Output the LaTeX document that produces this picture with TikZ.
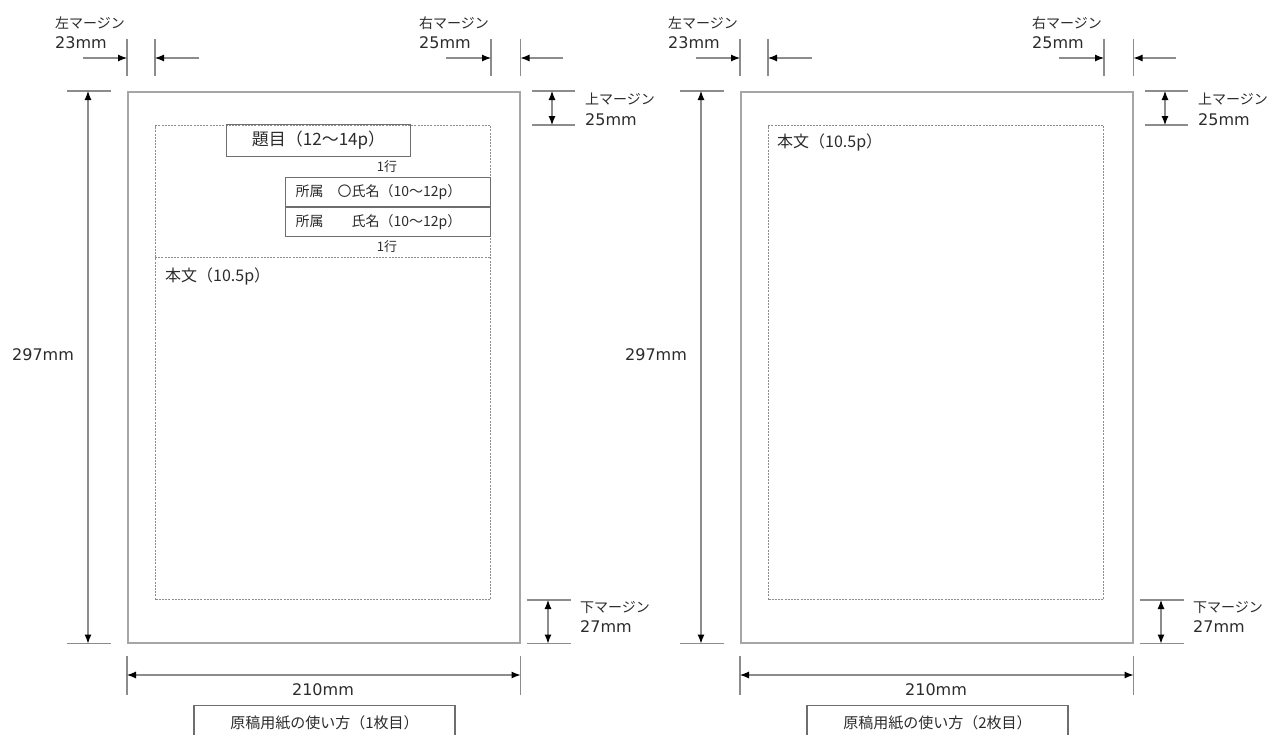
\documentclass[tikz,border=0pt]{standalone}
\usepackage{fontspec}
\setmainfont{DejaVu Sans}
\newfontfamily\jpfont{Noto Sans CJK JP}
\usetikzlibrary{arrows.meta,positioning}
\definecolor{sheetGrey}{HTML}{A6A6A6}
\definecolor{lineGrey}{HTML}{8C8C8C}
\definecolor{boxGrey}{HTML}{6E6E6E}
\definecolor{inkGrey}{HTML}{2B2B2B}

\begin{document}
\begin{tikzpicture}[
    x=1pt, y=-1pt,
    sheet/.style={draw=sheetGrey, line width=1.5pt, anchor=north west, inner sep=0pt,
                  minimum width=392pt, minimum height=551pt},
    arealine/.style={draw=lineGrey, line width=1pt, dash pattern=on 2pt off 1.2pt},
    textarea/.style={arealine, anchor=north west, inner sep=0pt,
                  minimum width=335pt, minimum height=474pt},
    titlebox/.style={draw=boxGrey, line width=1.1pt, anchor=north west, inner sep=0pt,
                  minimum width=184pt, minimum height=32pt, text=inkGrey,
                  font=\jpfont\fontsize{17}{19}\selectfont},
    authbox/.style={draw=boxGrey, line width=1.1pt, inner xsep=10pt, inner ysep=0pt,
                  text width=185pt, minimum height=29pt, align=left, text=inkGrey,
                  font=\jpfont\fontsize{14}{16}\selectfont},
    gaptext/.style={inner sep=0pt, text=inkGrey, font=\jpfont\fontsize{13}{15}\selectfont},
    bodytext/.style={inner sep=0pt, anchor=west, text=inkGrey, font=\jpfont\fontsize{16}{18}\selectfont},
    jplabel/.style={inner sep=0pt, anchor=west, text=inkGrey, font=\jpfont\fontsize{14}{16}\selectfont},
    numlabel/.style={inner sep=0pt, text=inkGrey, font=\fontsize{16}{18}\selectfont},
    captionbox/.style={draw=boxGrey, line width=1.3pt, anchor=north, inner sep=0pt,
                  minimum width=261pt, minimum height=34pt, text=inkGrey,
                  font=\jpfont\fontsize{15}{17}\selectfont},
    extline/.style={draw=lineGrey, line width=1.1pt},
    dimarr/.style={draw=lineGrey, line width=1.1pt, -{Latex[length=9pt,width=7pt,color=black]}},
    dimboth/.style={draw=lineGrey, line width=1.1pt,
                  {Latex[length=9pt,width=7pt,color=black]}-{Latex[length=9pt,width=7pt,color=black]}}
]
\useasboundingbox (0,0) rectangle (1267,734);

% -- shared heights of the dimension marks
\coordinate (topA) at (0,39);
\coordinate (topB) at (0,76);
\coordinate (wA) at (0,656);
\coordinate (wB) at (0,695);
\coordinate (wY) at (0,675);

% -- Page 1: sheet and text area
\node[sheet] (sheet1) at (127,91) {};
\node[textarea] (area1) at (155,125) {};

% -- Page 1: header block
\node[titlebox] (title1) at (226,124) {題目（12～14p）};
\node[gaptext] (gap1) at (387,167) {1行};
\node[authbox, anchor=north west] (auth1) at (285,177) {所属　〇氏名（10～12p）};
\node[authbox, below=0pt of auth1] (auth2) {所属　　氏名（10～12p）};
\node[gaptext] (gap2) at (387,247) {1行};
\coordinate (hdr1) at (0,257);
\draw[arealine] (area1.west |- hdr1) -- (area1.east |- hdr1);
\node[bodytext] (body1) at (165,276) {本文（10.5p）};

% -- Page 1: left / right margins
\node[jplabel] (lmText1) at (55,23) {左マージン};
\node[numlabel, anchor=west] (lmVal1) at (55,43) {23mm};
\node[jplabel] (rmText1) at (419,23) {右マージン};
\node[numlabel, anchor=west] (rmVal1) at (419,43) {25mm};
\draw[extline] (sheet1.north west |- topA) -- (sheet1.north west |- topB);
\draw[extline] (area1.north west |- topA) -- (area1.north west |- topB);
\draw[extline] (area1.north east |- topA) -- (area1.north east |- topB);
\draw[extline] (sheet1.north east |- topA) -- (sheet1.north east |- topB);
\coordinate (lmTailA1) at (83,58);
\coordinate (lmTailB1) at (199,58);
\coordinate (rmTailA1) at (446,58);
\coordinate (rmTailB1) at (563,58);
\draw[dimarr] (lmTailA1) -- (sheet1.north west |- lmTailA1);
\draw[dimarr] (lmTailB1) -- (area1.north west |- lmTailB1);
\draw[dimarr] (rmTailA1) -- (area1.north east |- rmTailA1);
\draw[dimarr] (rmTailB1) -- (sheet1.north east |- rmTailB1);

% -- Page 1: height
\coordinate (hL1) at (67,0);
\coordinate (hR1) at (111,0);
\coordinate (hX1) at (88,0);
\draw[extline] (hL1 |- sheet1.north west) -- (hR1 |- sheet1.north west);
\draw[extline] (hL1 |- sheet1.south west) -- (hR1 |- sheet1.south west);
\draw[dimboth] (hX1 |- sheet1.north west) -- (hX1 |- sheet1.south west);
\node[numlabel, anchor=west] (height1) at (12,355) {297mm};

% -- Page 1: top / bottom margins
\coordinate (tmL1) at (532,0);
\coordinate (tmR1) at (575,0);
\coordinate (tmX1) at (552,0);
\draw[extline] (tmL1 |- sheet1.north east) -- (tmR1 |- sheet1.north east);
\draw[extline] (tmL1 |- area1.north east) -- (tmR1 |- area1.north east);
\draw[dimboth] (tmX1 |- sheet1.north east) -- (tmX1 |- area1.north east);
\node[jplabel] (tmText1) at (585,99) {上マージン};
\node[numlabel, anchor=west] (tmVal1) at (585,120) {25mm};
\coordinate (bmL1) at (527,0);
\coordinate (bmR1) at (571,0);
\coordinate (bmX1) at (548,0);
\draw[extline] (bmL1 |- area1.south east) -- (bmR1 |- area1.south east);
\draw[extline] (bmL1 |- sheet1.south east) -- (bmR1 |- sheet1.south east);
\draw[dimboth] (bmX1 |- area1.south east) -- (bmX1 |- sheet1.south east);
\node[jplabel] (bmText1) at (580,607) {下マージン};
\node[numlabel, anchor=west] (bmVal1) at (580,627) {27mm};

% -- Page 1: width and caption
\draw[extline] (sheet1.south west |- wA) -- (sheet1.south west |- wB);
\draw[extline] (sheet1.south east |- wA) -- (sheet1.south east |- wB);
\draw[dimboth] (sheet1.south west |- wY) -- (sheet1.south east |- wY);
\node[numlabel] (width1) at (323,690) {210mm};
\node[captionbox] (cap1) at (324.5,705) {原稿用紙の使い方（1枚目）};

% -- Page 2: sheet and text area
\node[sheet] (sheet2) at (740,91) {};
\node[textarea] (area2) at (768,125) {};
\node[bodytext] (body2) at (777,142) {本文（10.5p）};

% -- Page 2: left / right margins
\node[jplabel] (lmText2) at (668,23) {左マージン};
\node[numlabel, anchor=west] (lmVal2) at (668,43) {23mm};
\node[jplabel] (rmText2) at (1032,23) {右マージン};
\node[numlabel, anchor=west] (rmVal2) at (1032,43) {25mm};
\draw[extline] (sheet2.north west |- topA) -- (sheet2.north west |- topB);
\draw[extline] (area2.north west |- topA) -- (area2.north west |- topB);
\draw[extline] (area2.north east |- topA) -- (area2.north east |- topB);
\draw[extline] (sheet2.north east |- topA) -- (sheet2.north east |- topB);
\coordinate (lmTailA2) at (696,58);
\coordinate (lmTailB2) at (812,58);
\coordinate (rmTailA2) at (1059,58);
\coordinate (rmTailB2) at (1176,58);
\draw[dimarr] (lmTailA2) -- (sheet2.north west |- lmTailA2);
\draw[dimarr] (lmTailB2) -- (area2.north west |- lmTailB2);
\draw[dimarr] (rmTailA2) -- (area2.north east |- rmTailA2);
\draw[dimarr] (rmTailB2) -- (sheet2.north east |- rmTailB2);

% -- Page 2: height
\coordinate (hL2) at (680,0);
\coordinate (hR2) at (724,0);
\coordinate (hX2) at (701,0);
\draw[extline] (hL2 |- sheet2.north west) -- (hR2 |- sheet2.north west);
\draw[extline] (hL2 |- sheet2.south west) -- (hR2 |- sheet2.south west);
\draw[dimboth] (hX2 |- sheet2.north west) -- (hX2 |- sheet2.south west);
\node[numlabel, anchor=west] (height2) at (625,355) {297mm};

% -- Page 2: top / bottom margins
\coordinate (tmL2) at (1145,0);
\coordinate (tmR2) at (1188,0);
\coordinate (tmX2) at (1165,0);
\draw[extline] (tmL2 |- sheet2.north east) -- (tmR2 |- sheet2.north east);
\draw[extline] (tmL2 |- area2.north east) -- (tmR2 |- area2.north east);
\draw[dimboth] (tmX2 |- sheet2.north east) -- (tmX2 |- area2.north east);
\node[jplabel] (tmText2) at (1198,99) {上マージン};
\node[numlabel, anchor=west] (tmVal2) at (1198,120) {25mm};
\coordinate (bmL2) at (1140,0);
\coordinate (bmR2) at (1184,0);
\coordinate (bmX2) at (1161,0);
\draw[extline] (bmL2 |- area2.south east) -- (bmR2 |- area2.south east);
\draw[extline] (bmL2 |- sheet2.south east) -- (bmR2 |- sheet2.south east);
\draw[dimboth] (bmX2 |- area2.south east) -- (bmX2 |- sheet2.south east);
\node[jplabel] (bmText2) at (1193,607) {下マージン};
\node[numlabel, anchor=west] (bmVal2) at (1193,627) {27mm};

% -- Page 2: width and caption
\draw[extline] (sheet2.south west |- wA) -- (sheet2.south west |- wB);
\draw[extline] (sheet2.south east |- wA) -- (sheet2.south east |- wB);
\draw[dimboth] (sheet2.south west |- wY) -- (sheet2.south east |- wY);
\node[numlabel] (width2) at (936,690) {210mm};
\node[captionbox] (cap2) at (937.5,705) {原稿用紙の使い方（2枚目）};

\end{tikzpicture}
\end{document}
